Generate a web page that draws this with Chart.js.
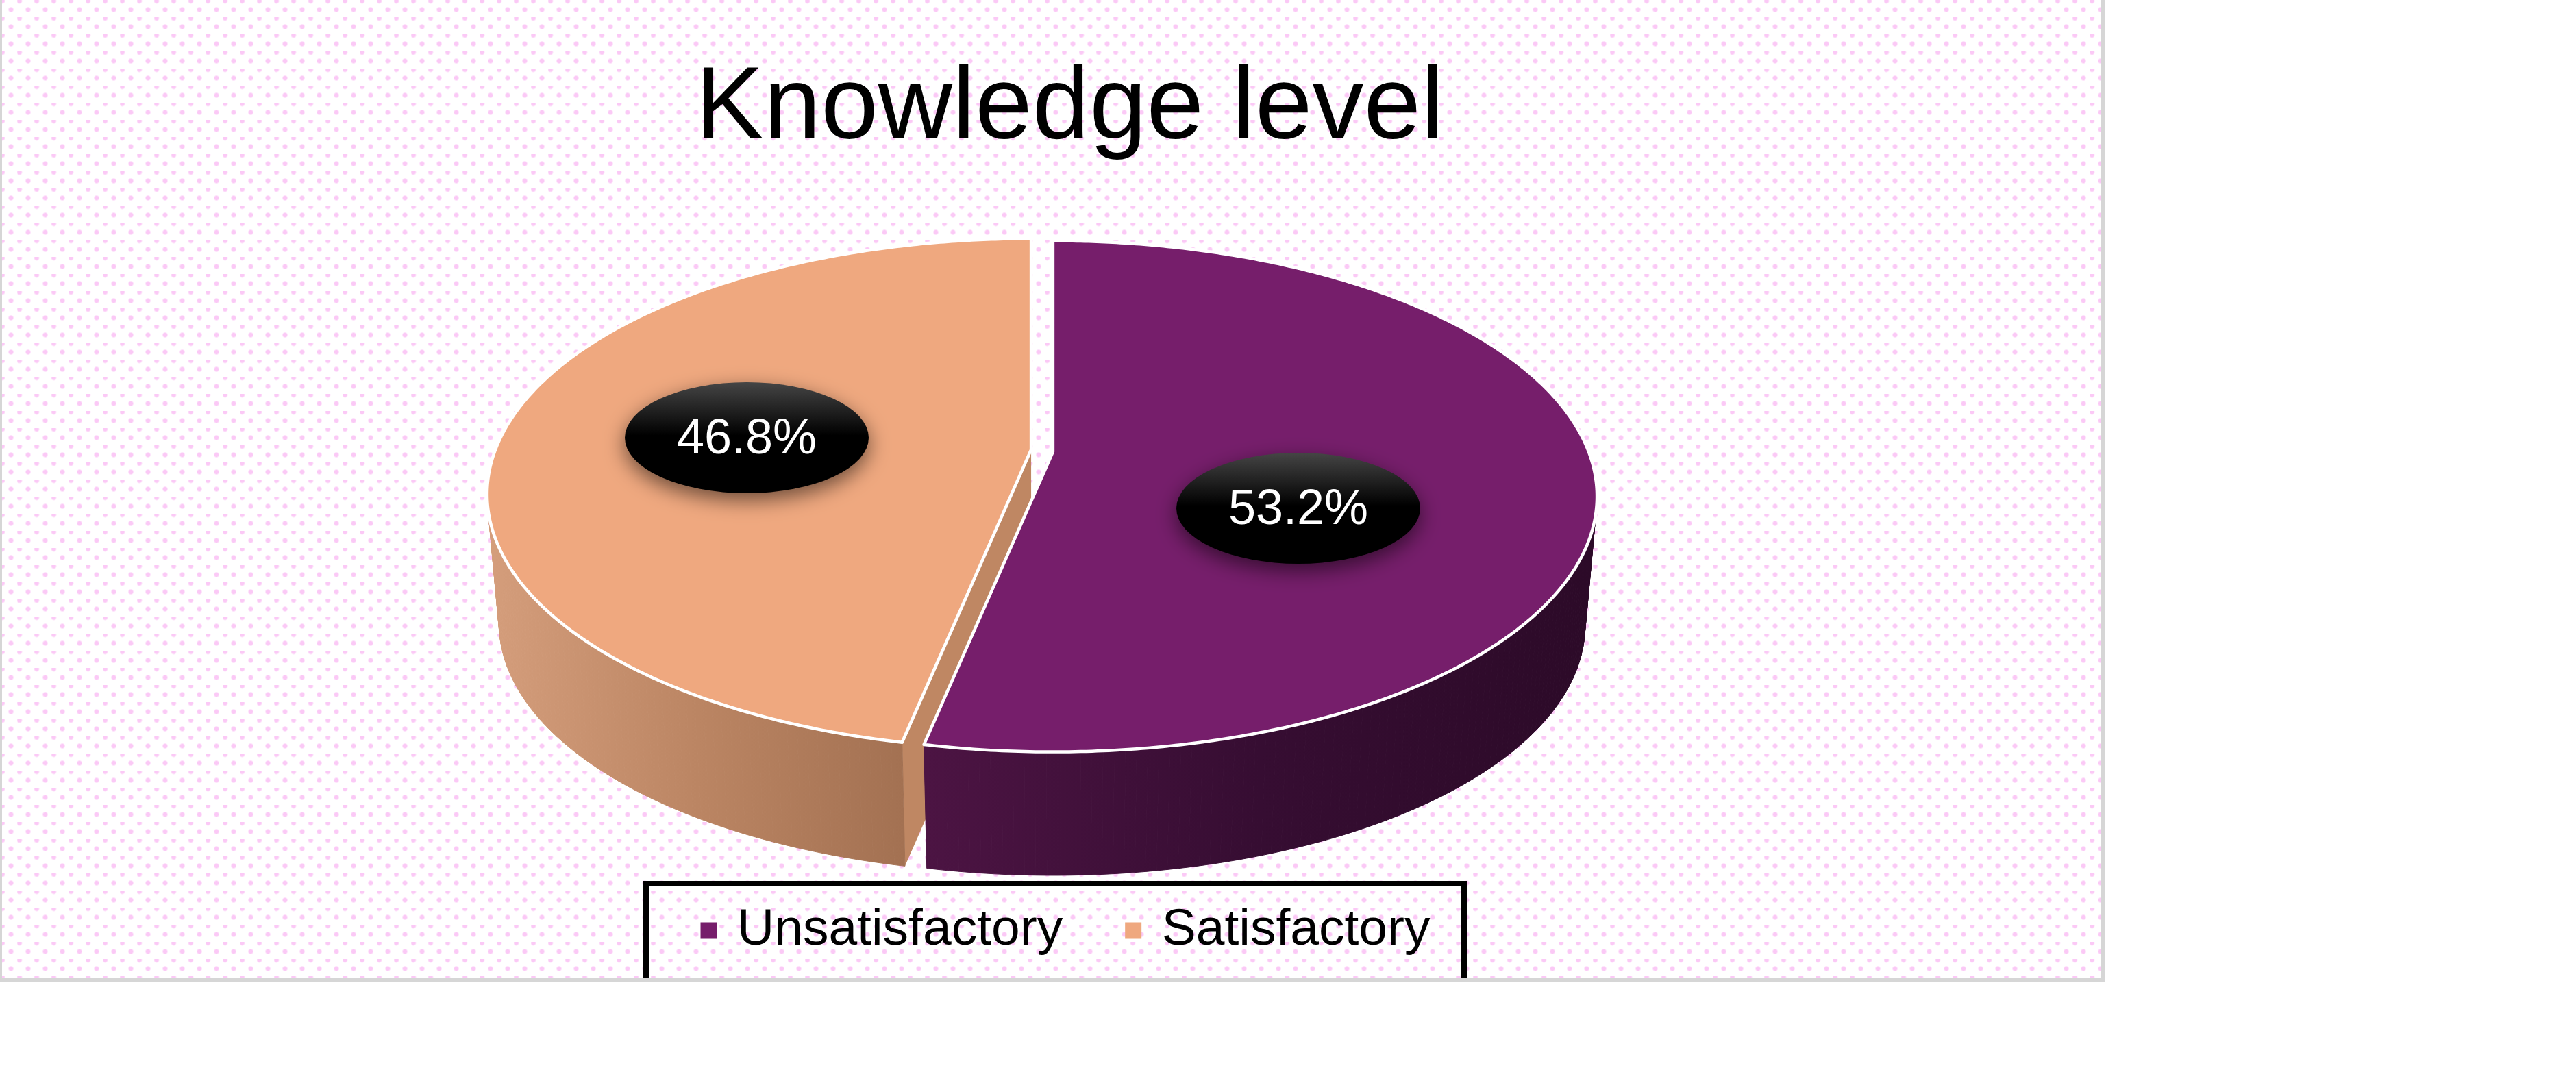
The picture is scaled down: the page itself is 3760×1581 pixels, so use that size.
<!DOCTYPE html>
<html>
<head>
<meta charset="utf-8">
<title>Knowledge level</title>
<script src="https://cdn.jsdelivr.net/npm/chart.js@4"></script>
<style>
  html, body { margin: 0; width: 3760px; height: 1581px; background: #fff; overflow: hidden; }
  #frame {
    position: absolute; left: 0; top: 0; width: 3072px; height: 1433px; box-sizing: border-box;
    border-left: 3px solid #d6d6d6; border-right: 6px solid #d6d6d6; border-bottom: 5px solid #d6d6d6;
    background-color: #fff;
    background-origin: border-box;
    background-image:
      radial-gradient(circle at 3.5px 1.5px, #fbc9f6 0, #fbc9f6 2.5px, rgba(251,201,246,0) 4.5px),
      radial-gradient(circle at 16px 14px, #fbc9f6 0, #fbc9f6 2.5px, rgba(251,201,246,0) 4.5px);
    background-size: 25px 25px;
  }
  #legendBox {
    position: absolute; left: 939px; top: 1286px; width: 1203px; height: 142px; box-sizing: border-box;
    border: solid #000; border-width: 7px 9px 0 9px;
  }
  canvas { position: absolute; left: 0; top: 0; }
</style>
</head>
<body>
<div id="frame"></div>
<div id="legendBox"></div>
<canvas id="pieChart" width="3072" height="1581"></canvas>
<script>
const chartTitle = "Knowledge level";
const categories = ["Unsatisfactory", "Satisfactory"];
const percentValues = [53.2, 46.8];
const sliceColors = ["#761E6B", "#EFA87F"];

// look of the 3d body, one entry per slice
const cutWallColors = ["#2E0B2A", "#BF8763"];
const wallStops = [["#4C1443", "#360D32", "#2C0A28"], ["#D49D7B", "#BB8563", "#A37152"]];
const wallRange = [[1350, 2330], [720, 1320]];
const labelCentres = [[1895, 742], [1090, 639]];

// perspective of the pie: pixels on the page
const CX = 1521, CY = 658, RX = 782, RY = 361.7, PERSP = 0.1742;
const DEPTH = 190, FLOOR_SCALE = 0.978;

function project(cx, cy, a, floor) {
  const k = floor ? FLOOR_SCALE : 1;
  const w = 1 / (1 - PERSP * Math.sin(a));
  return [cx + RX * k * Math.cos(a) * w, cy + (floor ? DEPTH : 0) + RY * k * Math.sin(a) * w];
}

function drawSlice(ctx, arc, i) {
  const a0 = arc.startAngle, a1 = arc.endAngle, mid = (a0 + a1) / 2;
  const off = arc.options.offset;
  const cx = CX + Math.cos(mid) * off, cy = CY + Math.sin(mid) * off;
  const steps = Math.ceil((a1 - a0) / (Math.PI / 180));
  const at = s => a0 + (a1 - a0) * s / steps;

  // cut faces
  ctx.fillStyle = cutWallColors[i];
  [a0, a1].forEach(a => {
    const t = project(cx, cy, a, false), b = project(cx, cy, a, true);
    ctx.beginPath();
    ctx.moveTo(cx, cy);
    ctx.lineTo(t[0], t[1]);
    ctx.lineTo(b[0], b[1]);
    ctx.lineTo(cx, cy + DEPTH);
    ctx.closePath();
    ctx.fill();
  });

  // outer wall
  const grad = ctx.createLinearGradient(wallRange[i][0], 0, wallRange[i][1], 0);
  wallStops[i].forEach((c, n) => grad.addColorStop(n / 2, c));
  ctx.fillStyle = grad;
  ctx.strokeStyle = grad;
  ctx.lineWidth = 1;
  for (let s = 0; s < steps; s++) {
    const p = [project(cx, cy, at(s), false), project(cx, cy, at(s + 1), false),
               project(cx, cy, at(s + 1), true), project(cx, cy, at(s), true)];
    ctx.beginPath();
    p.forEach((q, n) => n ? ctx.lineTo(q[0], q[1]) : ctx.moveTo(q[0], q[1]));
    ctx.closePath();
    ctx.fill();
    ctx.stroke();
  }

  // white edge where the wall meets the cut
  ctx.strokeStyle = "#fff";
  ctx.lineWidth = 3.5;
  const seam = Math.abs(Math.sin(a0)) < Math.abs(Math.sin(a1)) ? a1 : a0;
  const st = project(cx, cy, seam, false), sb = project(cx, cy, seam, true);
  ctx.beginPath();
  ctx.moveTo(st[0], st[1]);
  ctx.lineTo(sb[0], sb[1]);
  ctx.stroke();

  // top face
  ctx.beginPath();
  ctx.moveTo(cx, cy);
  for (let s = 0; s <= steps * 2; s++) {
    const q = project(cx, cy, at(s / 2), false);
    ctx.lineTo(q[0], q[1]);
  }
  ctx.closePath();
  ctx.fillStyle = sliceColors[i];
  ctx.fill();
  ctx.lineJoin = "round";
  ctx.lineWidth = 4.5;
  ctx.stroke();
}

function drawValueLabel(ctx, i) {
  const [x, y] = labelCentres[i];
  ctx.save();
  ctx.shadowColor = "rgba(0,0,0,0.55)";
  ctx.shadowBlur = 30;
  ctx.shadowOffsetY = 10;
  const g = ctx.createLinearGradient(0, y - 81, 0, y + 81);
  g.addColorStop(0, "#454545");
  g.addColorStop(0.48, "#000");
  g.addColorStop(1, "#000");
  ctx.fillStyle = g;
  ctx.beginPath();
  ctx.ellipse(x, y, 178, 81, 0, 0, Math.PI * 2);
  ctx.fill();
  ctx.restore();
  ctx.fillStyle = "#fff";
  ctx.font = '72px "Liberation Sans"';
  ctx.textAlign = "center";
  ctx.textBaseline = "middle";
  ctx.fillText(percentValues[i].toFixed(1) + "%", x, y + 3);
}

const pie3d = {
  id: "pie3d",
  afterLayout(chart) {
    // title sits a little right of the legend
    chart.titleBlock.left += 12;
  },
  beforeDatasetsDraw(chart) {
    const ctx = chart.ctx, arcs = chart.getDatasetMeta(0).data;
    ctx.save();
    for (let i = arcs.length - 1; i >= 0; i--) drawSlice(ctx, arcs[i], i);
    arcs.forEach((arc, i) => drawValueLabel(ctx, i));
    ctx.restore();
    return false; // the flat arcs are replaced by the 3d ones
  },
  afterDraw(chart) {
    // legend squares sit closer to their text than the library puts them
    const ctx = chart.ctx;
    chart.legend.legendHitBoxes.forEach((box, i) => {
      ctx.fillStyle = sliceColors[i];
      ctx.fillRect(box.left, box.top + box.height / 2 - 12, 24, 24);
    });
  }
};

Chart.defaults.font.family = '"Liberation Sans"';
Chart.defaults.color = "#000";

new Chart(document.getElementById("pieChart"), {
  type: "pie",
  data: {
    labels: categories,
    datasets: [{ data: percentValues, backgroundColor: sliceColors, borderWidth: 0, offset: 16 }]
  },
  options: {
    responsive: false,
    animation: false,
    devicePixelRatio: 1,
    layout: { padding: { left: 38, top: 0, bottom: 175 } },
    plugins: {
      title: {
        display: true,
        text: chartTitle,
        font: { size: 150, weight: "normal" },
        padding: { top: 71, bottom: 10 }
      },
      legend: {
        position: "bottom",
        labels: {
          font: { size: 75 },
          boxWidth: 16,
          boxHeight: 24,
          padding: 91,
          generateLabels: chart =>
            Chart.overrides.pie.plugins.legend.labels.generateLabels(chart).map(item => ({
              ...item, fillStyle: "rgba(0,0,0,0)", strokeStyle: "rgba(0,0,0,0)", lineWidth: 0
            }))
        }
      },
      tooltip: { enabled: false }
    }
  },
  plugins: [pie3d]
});
</script>
</body>
</html>
